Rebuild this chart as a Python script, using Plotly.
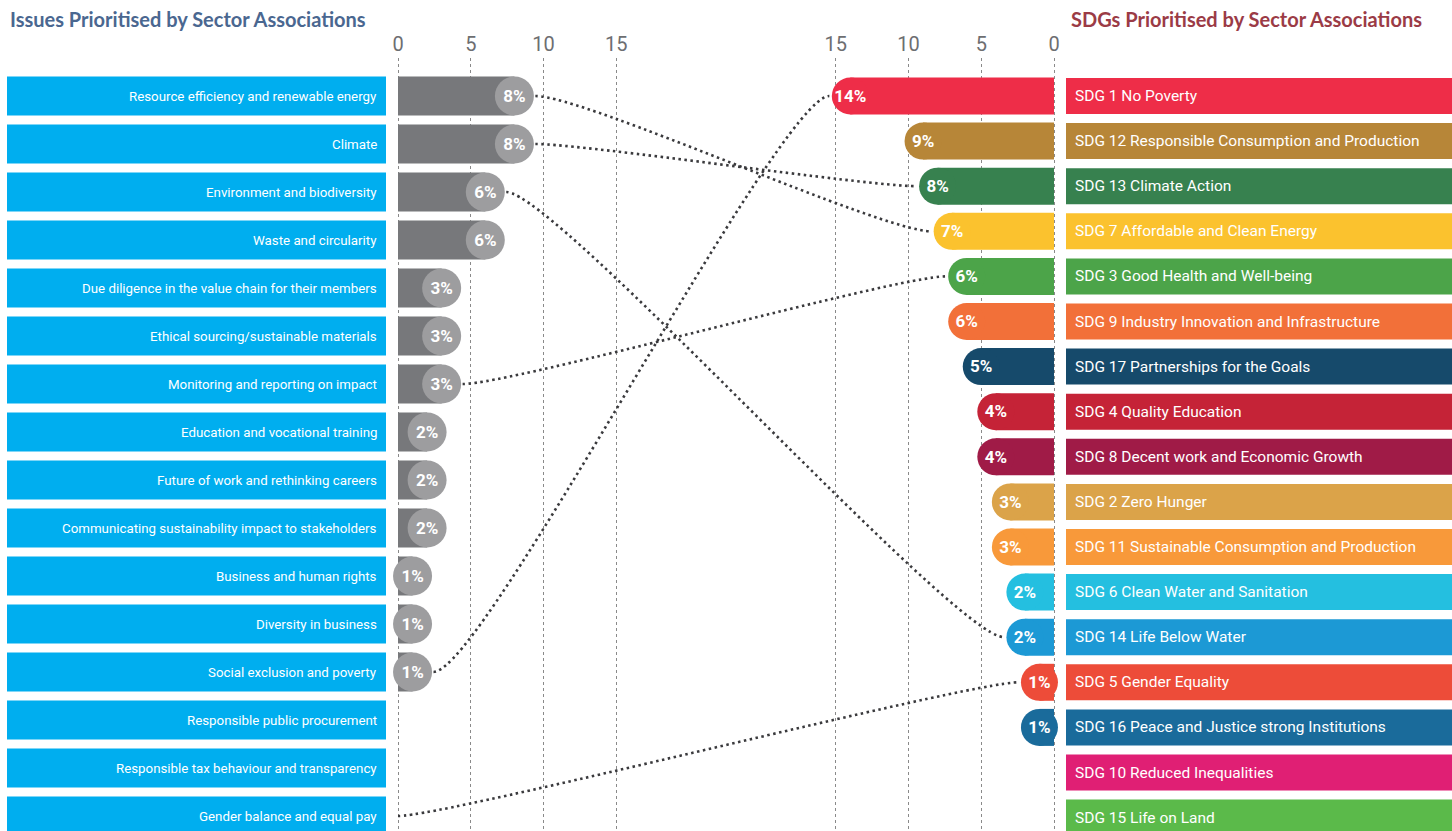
import plotly.graph_objects as go

# ---------------- data ----------------
issues = [
    "Resource efficiency and renewable energy",
    "Climate",
    "Environment and biodiversity",
    "Waste and circularity",
    "Due diligence in the value chain for their members",
    "Ethical sourcing/sustainable materials",
    "Monitoring and reporting on impact",
    "Education and vocational training",
    "Future of work and rethinking careers",
    "Communicating sustainability impact to stakeholders",
    "Business and human rights",
    "Diversity in business",
    "Social exclusion and poverty",
    "Responsible public procurement",
    "Responsible tax behaviour and transparency",
    "Gender balance and equal pay",
]
issue_pct = [8, 8, 6, 6, 3, 3, 3, 2, 2, 2, 1, 1, 1, None, None, None]

sdgs = [
    "SDG 1 No Poverty",
    "SDG 12 Responsible Consumption and Production",
    "SDG 13 Climate Action",
    "SDG 7 Affordable and Clean Energy",
    "SDG 3 Good Health and Well-being",
    "SDG 9 Industry Innovation and Infrastructure",
    "SDG 17 Partnerships for the Goals",
    "SDG 4 Quality Education",
    "SDG 8 Decent work and Economic Growth",
    "SDG 2 Zero Hunger",
    "SDG 11 Sustainable Consumption and Production",
    "SDG 6 Clean Water and Sanitation",
    "SDG 14 Life Below Water",
    "SDG 5 Gender Equality",
    "SDG 16 Peace and Justice strong Institutions",
    "SDG 10 Reduced Inequalities",
    "SDG 15 Life on Land",
]
sdg_pct = [14, 9, 8, 7, 6, 6, 5, 4, 4, 3, 3, 2, 2, 1, 1, None, None]
sdg_colors = [
    "#EE2D48", "#B78638", "#37814F", "#FBC22E", "#4CA449", "#F27039",
    "#164A6B", "#C52337", "#A01B47", "#DBA349", "#F8993A", "#24BFE0",
    "#1C99D5", "#ED4C39", "#1A6B9B", "#E01F74", "#5BBA4A",
]

# connectors: issue index -> SDG index
link_issue = [0, 1, 2, 6, 12, 15]
link_sdg = [3, 2, 12, 4, 0, 13]

tick_values = [0, 5, 10, 15]

# ---------------- layout constants ----------------
W, H = 1452, 831
TOP = 58
PX = 14.55                     # pixels per percentage point
LEFT_ZERO_PX = 398
RIGHT_ZERO_PX = 1054
RZ = (RIGHT_ZERO_PX - LEFT_ZERO_PX) / PX   # right zero in axis units
L_ROW0, L_PITCH = 96, 48
R_ROW0, R_PITCH = 96, 45.1
R_CIRC = 19.5 / PX
TXT_DY = 1.5                   # small vertical nudge for labels in circles

COND = "Roboto, Liberation Sans, sans-serif"

ly = [L_ROW0 + L_PITCH * i for i in range(len(issues))]
ry = [R_ROW0 + R_PITCH * j for j in range(len(sdgs))]

fig = go.Figure()

# left bars
lv = [v for v in issue_pct if v is not None]
lyv = [ly[i] for i, v in enumerate(issue_pct) if v is not None]
fig.add_trace(go.Bar(
    orientation="h", x=lv, y=lyv, base=0, width=39,
    marker=dict(color="#77787B", line=dict(width=0)),
    hoverinfo="skip", showlegend=False,
))
fig.add_trace(go.Scatter(
    x=lv, y=lyv, mode="markers",
    marker=dict(size=39, color="#9D9D9F", line=dict(width=0)),
    hoverinfo="skip", showlegend=False,
))
fig.add_trace(go.Scatter(
    x=lv, y=[y + TXT_DY for y in lyv], mode="text",
    text=[f"{v}%" for v in lv], textposition="middle center",
    textfont=dict(family=COND, size=17, color="white", weight="bold"),
    hoverinfo="skip", showlegend=False,
))

# right bars
rv = [v for v in sdg_pct if v is not None]
ryv = [ry[j] for j, v in enumerate(sdg_pct) if v is not None]
rc = [sdg_colors[j] for j, v in enumerate(sdg_pct) if v is not None]
fig.add_trace(go.Bar(
    orientation="h", x=[-v for v in rv], y=ryv, base=RZ, width=37,
    marker=dict(color=rc, line=dict(width=0)),
    hoverinfo="skip", showlegend=False,
))
fig.add_trace(go.Scatter(
    x=[RZ - v for v in rv], y=ryv, mode="markers",
    marker=dict(size=37, color=rc, line=dict(width=0)),
    hoverinfo="skip", showlegend=False,
))
fig.add_trace(go.Scatter(
    x=[RZ - v for v in rv], y=[y + TXT_DY for y in ryv], mode="text",
    text=[f"{v}%" for v in rv], textposition="middle center",
    textfont=dict(family=COND, size=17, color="white", weight="bold"),
    hoverinfo="skip", showlegend=False,
))

shapes = []
annotations = []

# label boxes
for i, name in enumerate(issues):
    shapes.append(dict(type="rect", xref="paper", yref="y",
                       x0=7 / W, x1=386 / W, y0=ly[i] - 19.5, y1=ly[i] + 19.5,
                       fillcolor="#00AEEF", line=dict(width=0), layer="below"))
    annotations.append(dict(xref="paper", yref="y", x=379 / W, y=ly[i],
                            text=name, showarrow=False, xanchor="right",
                            font=dict(family=COND, size=13.3, color="white")))
for j, name in enumerate(sdgs):
    shapes.append(dict(type="rect", xref="paper", yref="y",
                       x0=1066 / W, x1=1, y0=ry[j] - 18, y1=ry[j] + 18,
                       fillcolor=sdg_colors[j], line=dict(width=0), layer="below"))
    annotations.append(dict(xref="paper", yref="y", x=1073 / W, y=ry[j],
                            text=name, showarrow=False, xanchor="left",
                            font=dict(family=COND, size=15.5, color="white")))

# connectors
C = 50 / PX
for a, b in zip(link_issue, link_sdg):
    va = issue_pct[a]
    x0 = va + R_CIRC + 0.1 if va else 0
    y0 = ly[a]
    x1 = RZ - sdg_pct[b] - R_CIRC - 0.1
    y1 = ry[b]
    path = f"M {x0},{y0} C {x0 + C},{y0} {x1 - C},{y1} {x1},{y1}"
    shapes.append(dict(type="path", xref="x", yref="y", path=path,
                       line=dict(color="#3A3A3D", width=2.6, dash="2.5px,3.5px"),
                       layer="above"))

# titles
def py2paper(py):
    return (H - py) / (H - TOP)

annotations.append(dict(xref="paper", yref="paper", x=8 / W, y=py2paper(19),
                        text="<b>Issues Prioritised by Sector Associations</b>",
                        showarrow=False, xanchor="left", yanchor="middle",
                        font=dict(family="Lato, Open Sans, sans-serif", size=20, color="#4A6790")))
annotations.append(dict(xref="paper", yref="paper", x=1424 / W, y=py2paper(19),
                        text="<b>SDGs Prioritised by Sector Associations</b>",
                        showarrow=False, xanchor="right", yanchor="middle",
                        font=dict(family="Lato, Open Sans, sans-serif", size=20, color="#9B3B46")))

tickvals = tick_values + [RZ - t for t in tick_values]
ticktext = [str(t) for t in tick_values] + [str(t) for t in tick_values]

fig.update_layout(
    width=W, height=H,
    margin=dict(l=0, r=0, t=TOP, b=0, pad=0),
    paper_bgcolor="white", plot_bgcolor="white",
    barmode="overlay",
    shapes=shapes, annotations=annotations,
    xaxis=dict(range=[-LEFT_ZERO_PX / PX, (W - LEFT_ZERO_PX) / PX],
               side="top", tickvals=tickvals, ticktext=ticktext,
               showgrid=True, gridcolor="#8A8A8A", gridwidth=1, griddash="dot",
               zeroline=False, showline=False, ticks="",
               ticklabelstandoff=2,
               tickfont=dict(family=COND, size=20, color="#6D6E71"),
               fixedrange=True),
    yaxis=dict(range=[H, TOP], showgrid=False, zeroline=False,
               showticklabels=False, showline=False, ticks="", fixedrange=True),
    showlegend=False,
)

fig.write_html("out.html", config={"displayModeBar": False},
               post_script="document.body.style.margin='0px';")
